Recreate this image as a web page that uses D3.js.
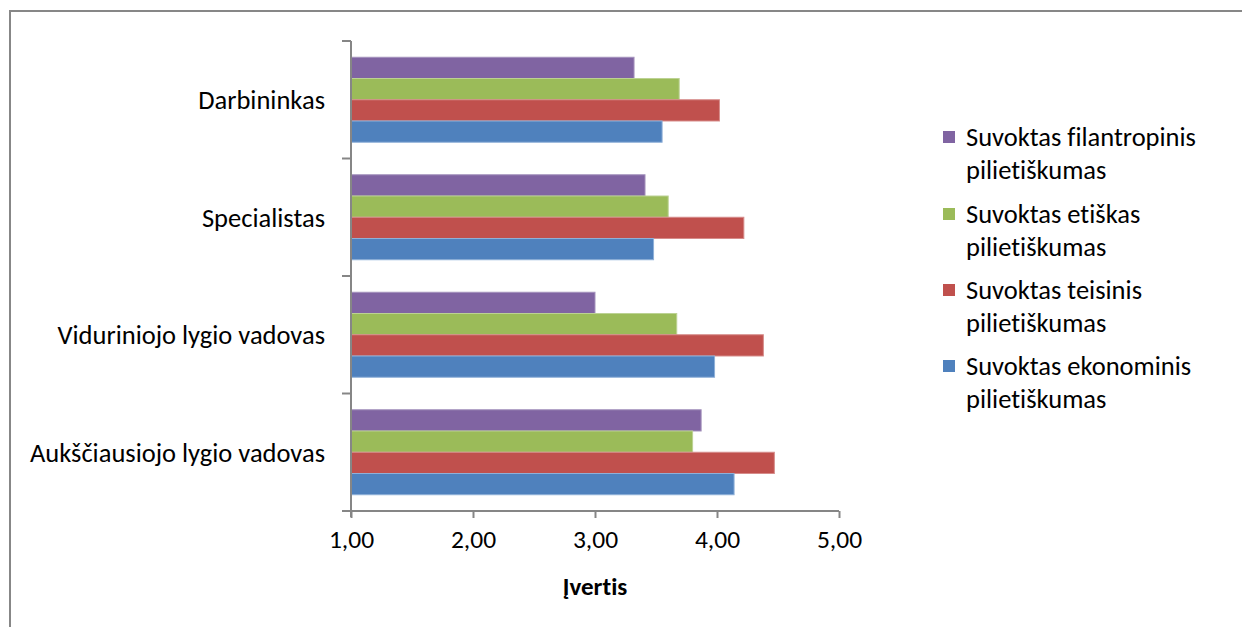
<!DOCTYPE html>
<html>
<head>
<meta charset="utf-8">
<script src="https://cdn.jsdelivr.net/npm/d3@7"></script>
<style>
  html, body { margin: 0; padding: 0; background: #fff; }
  svg { display: block; font-family: Carlito, Calibri, Lato, sans-serif; }
  svg text { font-variant-ligatures: none; font-feature-settings: "liga" 0, "clig" 0; }
</style>
</head>
<body>
<svg id="chart" width="1242" height="627"></svg>
<script>
// Job levels, listed top to bottom
const categories = ["Darbininkas", "Specialistas", "Viduriniojo lygio vadovas", "Aukščiausiojo lygio vadovas"];

// Series names (legend order, top to bottom)
const seriesNames = [
  "Suvoktas filantropinis pilietiškumas",
  "Suvoktas etiškas pilietiškumas",
  "Suvoktas teisinis pilietiškumas",
  "Suvoktas ekonominis pilietiškumas"
];
const legendLines = [
  ["Suvoktas filantropinis", "pilietiškumas"],
  ["Suvoktas etiškas", "pilietiškumas"],
  ["Suvoktas teisinis", "pilietiškumas"],
  ["Suvoktas ekonominis", "pilietiškumas"]
];

// Mean scores per category (same order as categories)
const filantropinis = [3.32, 3.41, 3.00, 3.87];
const etiskas       = [3.69, 3.60, 3.67, 3.80];
const teisinis      = [4.02, 4.22, 4.38, 4.47];
const ekonominis    = [3.55, 3.48, 3.98, 4.14];

const xTicks = [1, 2, 3, 4, 5];
const axisTitle = "Įvertis";

const seriesValues = [filantropinis, etiskas, teisinis, ekonominis];
const colors = ["#8064A2", "#9BBB59", "#C0504D", "#4F81BD"];
const edgeColors = ["#a593bd", "#bcd293", "#d68c8a", "#8fb0d8"];

const svg = d3.select("#chart");

// Outer chart frame
svg.append("rect")
  .attr("x", 10).attr("y", 11)
  .attr("width", 1250).attr("height", 640)
  .attr("fill", "none").attr("stroke", "#878787").attr("stroke-width", 2);

const plot = { left: 351, right: 839, top: 41, bottom: 511 };

const x = d3.scaleLinear().domain([1, 5]).range([plot.left, plot.right]);
const y = d3.scaleBand().domain(categories)
  .range([plot.top, plot.bottom])
  .paddingInner(0.2766).paddingOuter(0.1383);
const ySub = d3.scaleBand().domain(d3.range(seriesNames.length))
  .range([0, y.bandwidth()]);

const locale = d3.formatLocale({ decimal: ",", thousands: " ", grouping: [3], currency: ["", " €"] });
const fmt = locale.format(".2f");

const labelSize = 26.5;

// Bars
const groups = svg.append("g").selectAll("g")
  .data(categories)
  .join("g")
  .attr("transform", d => `translate(0,${y(d)})`);

groups.each(function (cat, ci) {
  d3.select(this).selectAll("rect")
    .data(seriesValues.map((vals, si) => ({ si, v: vals[ci] })))
    .join("rect")
    .attr("x", x(1))
    .attr("y", d => ySub(d.si))
    .attr("width", d => x(d.v) - x(1))
    .attr("height", ySub.bandwidth())
    .attr("fill", d => colors[d.si])
    .attr("stroke", d => edgeColors[d.si])
    .attr("stroke-width", 1);
});

const axisColor = "#868686";

// Category axis line
svg.append("line")
  .attr("x1", plot.left).attr("x2", plot.left)
  .attr("y1", plot.top).attr("y2", plot.bottom + 6)
  .attr("stroke", axisColor).attr("stroke-width", 2);

// Category boundary ticks
const boundaries = categories.map(c => y(c) - (y.step() - y.bandwidth()) / 2);
boundaries.push(plot.bottom);
svg.append("g").selectAll("line")
  .data(boundaries)
  .join("line")
  .attr("x1", plot.left - 9).attr("x2", plot.left)
  .attr("y1", d => d).attr("y2", d => d)
  .attr("stroke", axisColor).attr("stroke-width", 2);

svg.append("g").selectAll("text")
  .data(categories)
  .join("text")
  .attr("x", plot.left - 26)
  .attr("y", d => y(d) + y.bandwidth() / 2)
  .attr("dy", "0.35em")
  .attr("text-anchor", "end")
  .attr("font-size", labelSize)
  .attr("fill", "#000")
  .text(d => d);

// Value axis
const xAxis = d3.axisBottom(x).tickValues(xTicks).tickSize(7).tickPadding(12).tickFormat(fmt);
const gx = svg.append("g")
  .attr("transform", `translate(0,${plot.bottom})`)
  .call(xAxis);
gx.select(".domain").remove();
gx.selectAll(".tick line").attr("stroke", axisColor).attr("stroke-width", 2);
gx.selectAll(".tick text")
  .attr("font-family", "Carlito, Calibri, Lato, sans-serif")
  .attr("font-size", 25.5)
  .attr("fill", "#000");
svg.append("line")
  .attr("x1", plot.left - 9).attr("x2", plot.right)
  .attr("y1", plot.bottom).attr("y2", plot.bottom)
  .attr("stroke", axisColor).attr("stroke-width", 2);

svg.append("text")
  .attr("x", (plot.left + plot.right) / 2)
  .attr("y", 586)
  .attr("dy", "0.35em")
  .attr("text-anchor", "middle")
  .attr("font-size", 25)
  .attr("font-weight", "bold")
  .attr("fill", "#000")
  .text(axisTitle);

// Legend
const legendTop = [137, 214, 290, 366];
const legend = svg.append("g").selectAll("g")
  .data(seriesNames)
  .join("g")
  .attr("transform", (d, i) => `translate(943,${legendTop[i]})`);

legend.append("rect")
  .attr("x", 0).attr("y", -6)
  .attr("width", 12).attr("height", 12)
  .attr("fill", (d, i) => colors[i]);

legend.each(function (d, i) {
  d3.select(this).selectAll("text")
    .data(legendLines[i])
    .join("text")
    .attr("x", 23)
    .attr("y", (t, li) => li * 33)
    .attr("dy", "0.35em")
    .attr("font-size", labelSize)
    .attr("fill", "#000")
    .text(t => t);
});
</script>
</body>
</html>
